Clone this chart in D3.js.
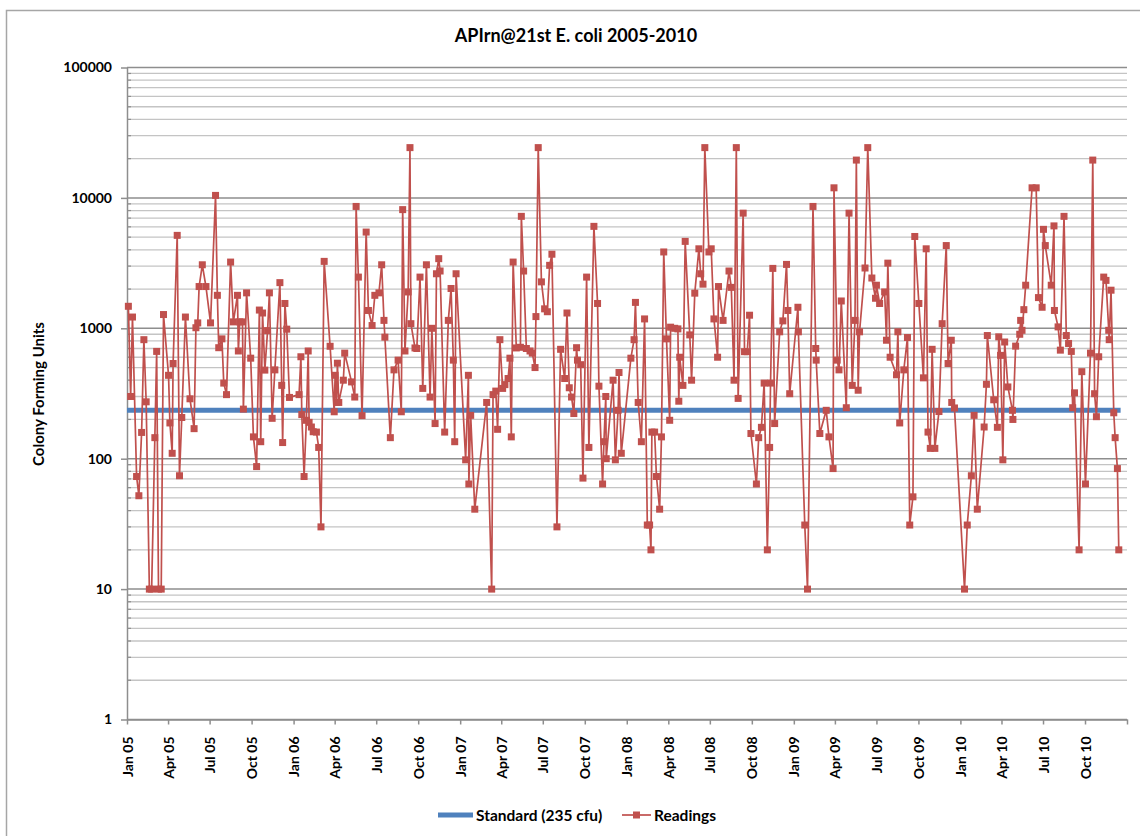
<!DOCTYPE html>
<html><head><meta charset="utf-8">
<script src="https://cdn.jsdelivr.net/npm/d3@7"></script>
<style>
body{margin:0;background:#fff}
text{font-family:Lato,"Open Sans",sans-serif;font-weight:bold;fill:#000}
</style>
</head><body>
<svg id="chart" width="1140" height="836"></svg>
<script>
// ---------- data ----------
const chartTitle = "APIrn@21st E. coli 2005-2010";
const yAxisTitle = "Colony Forming Units";
const yTickValues = [1, 10, 100, 1000, 10000, 100000];
const xTickLabels = ["Jan 05","Apr 05","Jul 05","Oct 05","Jan 06","Apr 06","Jul 06","Oct 06",
  "Jan 07","Apr 07","Jul 07","Oct 07","Jan 08","Apr 08","Jul 08","Oct 08",
  "Jan 09","Apr 09","Jul 09","Oct 09","Jan 10","Apr 10","Jul 10","Oct 10"];
const seriesNames = ["Standard (235 cfu)", "Readings"];
const standardCfu = 235;
const standardDay = [0, 2177];            // days after 1 Jan 2005
// sample day (days after 1 Jan 2005) and reading (cfu)
const readingDay = [3,8,12,21,26,32,37,42,49,54,61,65,69,75,80,91,94,99,101,110,115,120,128,138,147,151,155,158,165,173,183,
  194,198,201,208,212,218,227,233,242,244,247,253,255,262,271,277,284,290,293,297,302,308,312,318,324,335,339,341,346,350,356,
  377,381,383,388,393,397,399,404,408,415,420,425,432,445,454,456,459,461,464,474,477,492,499,502,507,515,524,529,537,543,552,558,563,565,
  577,585,594,601,604,609,616,620,622,631,635,642,648,656,664,668,675,678,683,686,696,704,710,715,718,721,
  742,748,749,753,762,788,799,802,808,812,817,823,828,835,839,842,846,853,862,864,869,875,883,888,894,896,901,908,915,921,926,931,
  942,950,959,964,969,974,979,985,987,994,999,1007,1012,1023,1031,1034,1042,1045,1049,1050,1065,1070,1076,1078,
  1083,1104,1111,1114,1120,1127,1134,1140,1145,1148,1150,1156,1160,1167,1171,1176,1182,1189,1191,1200,1207,1209,1211,1218,1223,1233,1237,
  1244,1253,1257,1262,1266,1275,1280,1286,1294,1296,1306,1319,1324,1330,1335,1339,1350,1353,1359,1364,1367,1379,1384,1390,1396,1403,1408,1410,
  1415,1419,1430,1437,1445,1448,1452,
  1470,1471,1485,1491,1503,1509,1510,1518,1532,1538,1547,1549,1556,1560,1565,1576,1582,1589,1595,1598,1602,1605,1617,1623,1632,1640,1642,
  1649,1660,1664,1667,1672,1686,1689,1693,1702,1710,1715,1722,1726,1735,1745,1751,1755,1760,1764,1770,1779,1786,1795,1799,1806,1807,1813,
  1835,1841,1850,1856,1863,1878,1883,1885,1899,1907,1910,1914,1919,1923,1930,1940,1941,1947,1956,1958,1961,1965,1969,1983,1992,1997,
  2005,2008,2012,2025,2031,2032,2040,2045,2053,2058,2063,2069,2072,2076,2086,2092,2100,2111,2116,2120,2124,2129,2140,2145,2151,2152,
  2156,2162,2165,2170,2173];
const readingCfu = [1475,300,1220,73,52,159,818,273,10,10,145,665,10,10,1275,436,188,110,537,5160,74,207,1220,288,170,1010,1100,2090,3070,2090,1100,
  10450,1790,710,830,380,310,3220,1120,1790,670,1120,1120,240,1870,590,147,87,1380,135,1310,478,960,1870,204,480,2240,365,133,1550,985,295,
  310,605,218,73,197,670,190,175,161,160,122,30,3260,728,229,436,270,540,270,400,645,388,297,8600,2470,214,5470,1370,1050,1790,1870,3070,1150,855,
  145,480,570,229,8130,670,1900,24300,1085,707,700,2470,346,3070,297,1000,186,2620,3420,2750,160,1150,2020,570,135,2620,
  98,436,64,215,41,270,10,310,330,168,818,346,370,412,590,147,3220,707,715,7220,2750,700,670,645,500,1230,24300,2270,1410,1340,3040,3700,
  30,690,412,1310,350,297,222,710,570,526,71,2470,122,6050,1550,360,64,135,300,100,400,98,235,458,
  110,590,818,1580,270,135,1180,31,31,20,160,160,73,41,147,3850,830,197,1020,1000,990,276,600,365,4640,890,400,
  1860,4070,2620,2180,24300,3850,4070,1180,600,2090,1150,2750,2060,400,24300,290,7640,662,662,1260,156,64,145,174,380,20,122,380,
  2880,186,940,1140,3090,1370,315,
  1450,940,31,10,8600,700,570,156,235,147,84,11950,570,480,1620,246,7640,365,1150,19500,335,940,2900,24300,2430,1700,2140,
  1550,1900,810,3160,600,440,940,188,480,850,31,51,5060,1550,417,4070,160,120,690,120,230,1085,4310,537,810,270,245,
  10,31,74,215,41,175,372,880,283,174,860,620,98,785,355,235,200,730,900,1150,965,1390,2140,11950,11950,1720,
  1450,5740,4310,2140,6100,1370,1025,680,7220,880,765,665,246,320,20,465,64,645,19500,315,210,605,2470,2330,965,818,
  1960,225,145,84,20];

// ---------- chart ----------
const W = 1140, H = 836;
const plot = {left: 127, top: 67.5, right: 1127, bottom: 719.5};
const colStd = "#4f81bd", colRead = "#c0504d";
const svg = d3.select("#chart");
svg.append("rect").attr("width", W).attr("height", H).attr("fill", "#fff");
svg.append("rect").attr("x", 6.5).attr("y", 10.5).attr("width", W).attr("height", H)
  .attr("fill", "none").attr("stroke", "#a6a6a6").attr("stroke-width", 1.5);

const t0 = Date.UTC(2005, 0, 1);
const dayToDate = d => new Date(t0 + d * 864e5);
const parseTick = d3.utcParse("%b %y");
const tickDates = xTickLabels.map(parseTick);
const x = d3.scaleUtc().domain([tickDates[0], d3.utcMonth.offset(tickDates[tickDates.length-1], 3)])
  .range([plot.left, plot.right]);
const y = d3.scaleLog().domain([yTickValues[0], yTickValues[yTickValues.length-1]]).range([plot.bottom, plot.top]);

// gridlines
const allTicks = y.ticks();
const isMajor = v => yTickValues.some(t => Math.abs(t - v) < 1e-9);
svg.append("g").selectAll("line").data(allTicks.filter(v => !isMajor(v))).join("line")
  .attr("x1", plot.left).attr("x2", plot.right).attr("y1", d => y(d)).attr("y2", d => y(d))
  .attr("stroke", "#c4c4c4").attr("stroke-width", 1.3);
svg.append("g").selectAll("line").data(yTickValues).join("line")
  .attr("x1", plot.left).attr("x2", plot.right).attr("y1", d => y(d)).attr("y2", d => y(d))
  .attr("stroke", "#8e8e8e").attr("stroke-width", 1.5);

// minor inner ticks on y axis
svg.append("g").selectAll("line").data(allTicks.filter(v => !isMajor(v))).join("line")
  .attr("x1", plot.left).attr("x2", plot.left + 4).attr("y1", d => y(d)).attr("y2", d => y(d))
  .attr("stroke", "#8e8e8e").attr("stroke-width", 1.2);

// y axis
const yAxis = svg.append("g").attr("transform", `translate(${plot.left},0)`)
  .call(d3.axisLeft(y).tickValues(yTickValues).tickFormat(d3.format("d")).tickSize(6).tickSizeOuter(0).tickPadding(9));
yAxis.select(".domain").attr("stroke", "#8e8e8e").attr("stroke-width", 1.5);
yAxis.selectAll(".tick line").attr("stroke", "#8e8e8e").attr("stroke-width", 1.5);
yAxis.selectAll("text").style("font-size", "14px").style("font-family", "Lato").style("font-weight", "bold").attr("fill", "#000");

// x axis
const xTicksAll = tickDates.concat([x.domain()[1]]);
const xAxis = svg.append("g").attr("transform", `translate(0,${plot.bottom})`)
  .call(d3.axisBottom(x).tickValues(xTicksAll)
    .tickFormat((d, i) => i < xTickLabels.length ? xTickLabels[i] : "").tickSize(5).tickSizeOuter(0));
xAxis.select(".domain").attr("stroke", "#8e8e8e").attr("stroke-width", 1.5);
xAxis.selectAll(".tick line").attr("stroke", "#8e8e8e").attr("stroke-width", 1.5);
xAxis.selectAll("text").style("font-size", "14px").style("font-family", "Lato").style("font-weight", "bold").attr("fill", "#000")
  .attr("transform", "rotate(-90)").attr("text-anchor", "end").attr("x", -17).attr("y", 0).attr("dy", "0.36em");

// standard line
svg.append("path").datum(standardDay)
  .attr("d", d3.line().x(d => x(dayToDate(d))).y(() => y(standardCfu)))
  .attr("fill", "none").attr("stroke", colStd).attr("stroke-width", 5);

// readings
const pts = readingDay.map((d, i) => ({date: dayToDate(d), v: readingCfu[i]}));
svg.append("path").datum(pts)
  .attr("d", d3.line().x(d => x(d.date)).y(d => y(d.v)))
  .attr("fill", "none").attr("stroke", colRead).attr("stroke-width", 1.7).attr("stroke-linejoin", "round");
const ms = 7;
svg.append("g").selectAll("rect").data(pts).join("rect")
  .attr("x", d => x(d.date) - ms/2).attr("y", d => y(d.v) - ms/2).attr("width", ms).attr("height", ms)
  .attr("fill", colRead);

// title
svg.append("text").attr("x", 576).attr("y", 42).attr("text-anchor", "middle")
  .style("font-size", "18px").text(chartTitle);
// y title
svg.append("text").attr("transform", "translate(38,394) rotate(-90)").attr("text-anchor", "middle")
  .attr("dominant-baseline", "central").style("font-size", "15px").text(yAxisTitle);

// legend
const ly = 815;
svg.append("line").attr("x1", 438).attr("x2", 473).attr("y1", ly).attr("y2", ly)
  .attr("stroke", colStd).attr("stroke-width", 5);
svg.append("text").attr("x", 476).attr("y", ly).attr("dominant-baseline", "central")
  .style("font-size", "15.5px").text(seriesNames[0]);
svg.append("line").attr("x1", 622).attr("x2", 651).attr("y1", ly).attr("y2", ly)
  .attr("stroke", colRead).attr("stroke-width", 1.7);
svg.append("rect").attr("x", 636.5 - ms/2).attr("y", ly - ms/2).attr("width", ms).attr("height", ms).attr("fill", colRead);
svg.append("text").attr("x", 654).attr("y", ly).attr("dominant-baseline", "central")
  .style("font-size", "15.5px").text(seriesNames[1]);
</script>
</body></html>
